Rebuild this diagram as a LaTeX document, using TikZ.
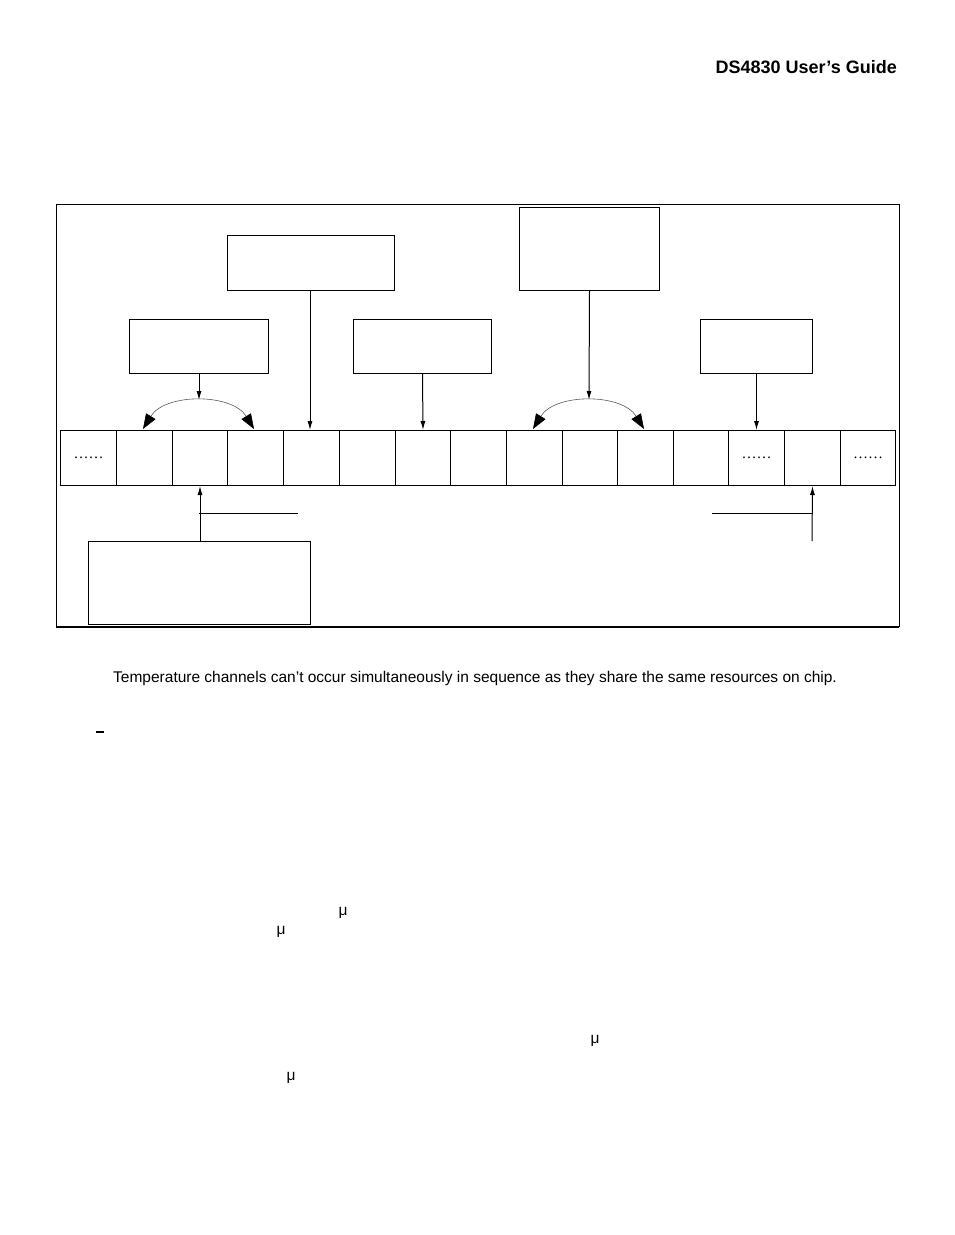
\documentclass[tikz,border=0pt]{standalone}
\usepackage{fontspec}
\setsansfont{Liberation Sans}
\setmainfont{Liberation Serif}
\usetikzlibrary{arrows.meta}
\begin{document}
\begin{tikzpicture}[x=1pt,y=-1pt,
  bx/.style={draw,line width=1pt},
  arr/.style={-{Latex[length=9pt,width=5pt]},line width=1pt},
  big/.style={{Triangle[length=15pt,width=11pt,color=black]}-{Triangle[length=15pt,width=11pt,color=black]},line width=0.6pt,draw=gray!70!black},
  txt/.style={font=\sffamily\fontsize{15.5}{18}\selectfont,inner sep=0pt}]
\useasboundingbox (0,0) rectangle (954,1235);
\node[font=\sffamily\bfseries\fontsize{18}{21}\selectfont,anchor=east,inner sep=0] (hdr) at (897,67) {DS4830 User’s Guide};
\draw[line width=1pt] (56,627) -- (56,204) -- (899,204) -- (899,627);
\draw[line width=2pt] (56,627) -- (899,627);
% cells
\foreach \i/\a/\b in {0/60/116,1/116/172,2/172/227,3/227/283,4/283/339,5/339/395,6/395/450,7/450/506,8/506/562,9/562/617,10/617/673,11/673/728,12/728/784,13/784/840,14/840/895}
  \node[bx,minimum width={(\b-\a)*1pt},minimum height=55pt,inner sep=0,anchor=north west] (c\i) at (\a,430) {};
\node[font=\rmfamily\fontsize{15}{17}\selectfont] at (c0) {……};
\node[font=\rmfamily\fontsize{15}{17}\selectfont] at (c12) {……};
\node[font=\rmfamily\fontsize{15}{17}\selectfont] at (c14) {……};
% boxes
\node[bx,minimum width=167pt,minimum height=55pt,anchor=north west] (b1) at (227,235) {};
\node[bx,minimum width=139pt,minimum height=54pt,anchor=north west] (b2) at (129,319) {};
\node[bx,minimum width=138pt,minimum height=54pt,anchor=north west] (b3) at (353,319) {};
\node[bx,minimum width=140pt,minimum height=83pt,anchor=north west] (b4) at (519,207) {};
\node[bx,minimum width=112pt,minimum height=54pt,anchor=north west] (b5) at (700,319) {};
\node[bx,minimum width=222pt,minimum height=83pt,anchor=north west] (b6) at (88,541) {};
% arrows
\coordinate (t1) at (199,400);
\coordinate (t2) at (589,400);
\draw[arr] (b2.south) -- (t1);
\draw[big] (143,429) .. controls (165,393) and (232,393) .. (254,429);
\draw[arr] (b1.south -| 310,0) -- (310,430);
\draw[arr] (b3.south) -- (c6.north);
\draw[arr] (b4.south) -- (t2);
\draw[big] (533,429) .. controls (555,393) and (622,393) .. (644,429);
\draw[arr] (b5.south) -- (c12.north);
\draw[arr] (b6.north -| c2.south) -- (c2.south);
\draw[line width=1pt] (199,513) -- (298,513);
\coordinate (r1) at (812,541);
\draw[arr] (r1) -- (c13.south);
\draw[line width=1pt] (712,513) -- (812,513);
% text
\node[txt,anchor=west] (cap) at (113,678) {Temperature channels can’t occur simultaneously in sequence as they share the same resources on chip.};
\draw[line width=2pt] (96,732) -- (104,732);
\node[txt] at (343,913) {μ};
\node[txt] at (281,932) {μ};
\node[txt] at (595,1041) {μ};
\node[txt] at (291,1078) {μ};
\end{tikzpicture}
\end{document}
